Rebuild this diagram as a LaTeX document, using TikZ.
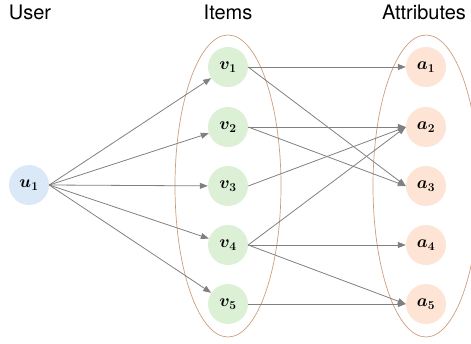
\documentclass[tikz,border=0pt]{standalone}
\usepackage{fontspec}
\setmainfont{TeX Gyre Heros}
\usetikzlibrary{arrows.meta}
\definecolor{userfill}{RGB}{218,232,248}
\definecolor{itemfill}{RGB}{220,240,214}
\definecolor{attrfill}{RGB}{253,228,212}
\definecolor{groupline}{RGB}{205,158,124}
\definecolor{edgegray}{RGB}{128,128,128}
\tikzset{
  vertex/.style={circle, minimum size=40pt, inner sep=0pt, draw=none,
    font=\fontsize{17}{19}\selectfont\boldmath},
  usernode/.style={vertex, fill=userfill},
  itemnode/.style={vertex, fill=itemfill},
  attrnode/.style={vertex, fill=attrfill},
  group/.style={draw=groupline, line width=0.7pt},
  link/.style={draw=edgegray, line width=0.8pt,
    -{Triangle[length=8pt,width=6pt]}},
  heading/.style={font=\fontsize{20}{24}\selectfont, inner sep=0pt, anchor=base}
}
\begin{document}
\begin{tikzpicture}[x=1pt, y=-1pt]
\useasboundingbox (0,0) rectangle (471,343);
\begin{scope}
\clip (0,0) rectangle (471,343);

% column headings
\node[heading] (huser) at (30,19) {User};
\node[heading] (hitems) at (228,19) {Items};
\node[heading] (hattr) at (424,19) {Attributes};

% grouping ellipses
\draw[group] (228,186) ellipse [x radius=53, y radius=151];
\draw[group] (426,186) ellipse [x radius=53, y radius=151];

% user
\node[usernode] (u1) at (29,185) {$u_1$};

% items
\node[itemnode] (v1) at (228,67) {$v_1$};
\node[itemnode] (v2) at (228,127) {$v_2$};
\node[itemnode] (v3) at (228,186) {$v_3$};
\node[itemnode] (v4) at (228,245) {$v_4$};
\node[itemnode] (v5) at (228,304) {$v_5$};

% attributes
\node[attrnode] (a1) at (426,67) {$a_1$};
\node[attrnode] (a2) at (426,127) {$a_2$};
\node[attrnode] (a3) at (426,186) {$a_3$};
\node[attrnode] (a4) at (426,245) {$a_4$};
\node[attrnode] (a5) at (426,304) {$a_5$};

% user -> items
\foreach \v in {v1,v2,v3,v4,v5}
  \draw[link] (u1.east) -- (\v);

% items -> attributes
\draw[link] (v1.east) -- (a1.west);
\draw[link] (v1.east) -- (a3.west);
\draw[link] (v2.east) -- (a2.west);
\draw[link] (v2.east) -- (a3.west);
\draw[link] (v3.east) -- (a2.west);
\draw[link] (v4.east) -- (a2.west);
\draw[link] (v4.east) -- (a4.west);
\draw[link] (v4.east) -- (a5.west);
\draw[link] (v5.east) -- (a5.west);
\end{scope}
\end{tikzpicture}
\end{document}
